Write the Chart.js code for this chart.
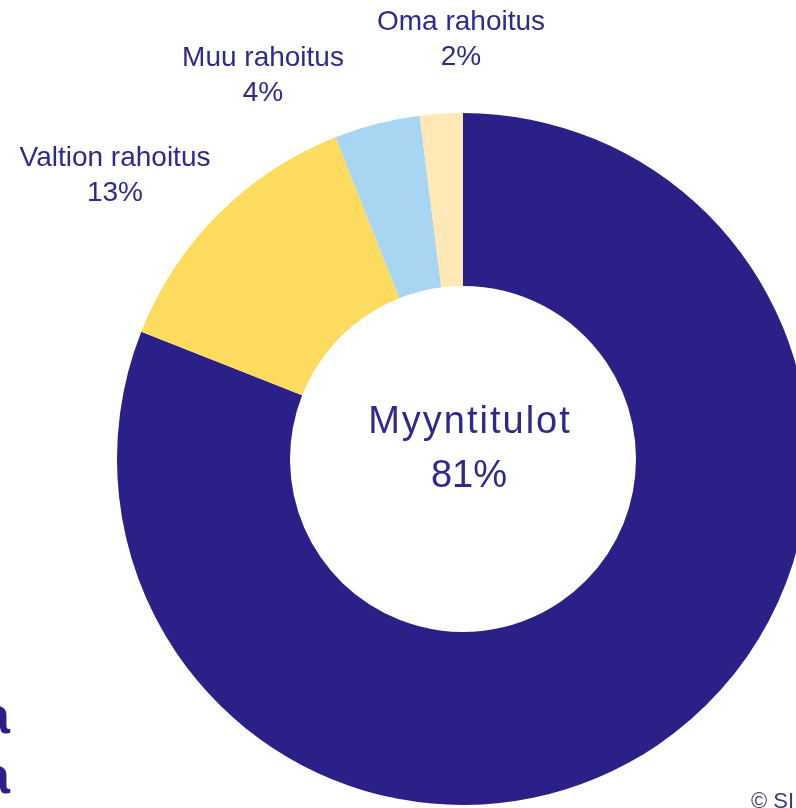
<!DOCTYPE html>
<html>
<head>
<meta charset="utf-8">
<script src="https://cdn.jsdelivr.net/npm/chart.js@4.4.1/dist/chart.umd.min.js"></script>
<style>
  html, body { margin: 0; padding: 0; width: 796px; height: 808px; overflow: hidden; background: #fff; }
  #wrap { position: absolute; left: 0; top: 0; width: 900px; height: 900px; }
  .frag { position: absolute; font-family: "Liberation Sans", Arial, sans-serif; color: #2b1f88; white-space: nowrap; }
</style>
</head>
<body>
<div id="wrap"><canvas id="rahoitus" width="900" height="900"></canvas></div>
<div class="frag" style="right:786px; top:685px; font-size:52px; font-weight:bold; line-height:60px; text-align:right;">a<br>a</div>
<div class="frag" style="left:751px; top:788px; font-size:22px; color:#3a3a7a;">© SI</div>
<script>
const labels = ['Myyntitulot', 'Valtion rahoitus', 'Muu rahoitus', 'Oma rahoitus'];
const shares = [81, 13, 4, 2];
const colors = ['#2b1f88', '#fcdb5e', '#a8d5f1', '#fde8b6'];

// label placement relative to the donut centre (px)
const labelOffsets = [[6, -26], [-348, -293], [-200, -393], [-2, -429]];

const textColor = '#2e2a8c';

const labelPlugin = {
    id: 'labelPlugin',
    afterDraw(chart) {
        const ctx = chart.ctx;
        const arc = chart.getDatasetMeta(0).data[0];
        const cx = arc.x, cy = arc.y;
        ctx.save();
        ctx.fillStyle = textColor;
        ctx.textAlign = 'center';
        ctx.textBaseline = 'alphabetic';
        labels.forEach((name, i) => {
            const [dx, dy] = labelOffsets[i];
            if (i === 0) {
                ctx.font = '38px "Liberation Sans", Arial, sans-serif';
                ctx.letterSpacing = '2px';
                ctx.fillText(name, cx + dx + 1, cy + dy);
                ctx.letterSpacing = '0px';
                ctx.fillText(shares[i] + '%', cx + dx, cy + dy + 54);
            } else {
                ctx.font = '28px "Liberation Sans", Arial, sans-serif';
                ctx.letterSpacing = '0px';
                ctx.fillText(name, cx + dx, cy + dy);
                ctx.fillText(shares[i] + '%', cx + dx, cy + dy + 35);
            }
        });
        ctx.restore();
    }
};

const ctx0 = document.getElementById('rahoitus').getContext('2d');
const rahoitus = new Chart(ctx0, {
    type: 'doughnut',
    data: {
        labels: labels,
        datasets: [{
            data: shares,
            backgroundColor: colors,
            borderWidth: 0,
            hoverOffset: 0
        }]
    },
    options: {
        responsive: false,
        devicePixelRatio: 1,
        animation: false,
        cutout: '50%',
        layout: {
            padding: { left: 117, top: 113, right: 91, bottom: 95 }
        },
        plugins: {
            legend: { display: false },
            tooltip: { enabled: false }
        }
    },
    plugins: [labelPlugin]
});
</script>
</body>
</html>
